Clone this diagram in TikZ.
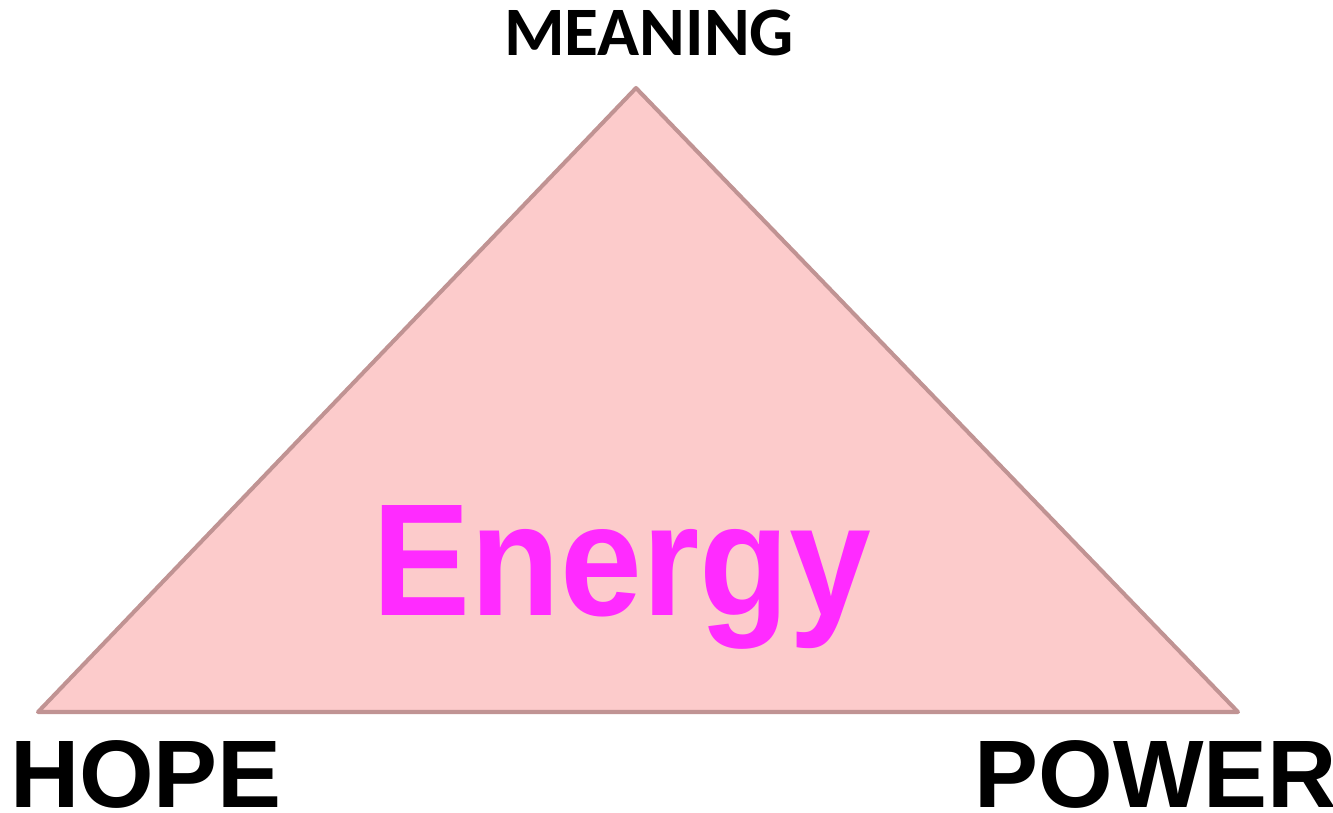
\documentclass[tikz,border=0pt]{standalone}
\usepackage{fontspec}
\setmainfont{Liberation Sans}
\newfontfamily\calibri{Carlito}
\usepackage{tikz}
\usetikzlibrary{positioning}
\definecolor{trifill}{HTML}{FCCBCB}
\definecolor{triedge}{HTML}{C09393}
\definecolor{energypink}{HTML}{FF2BFF}

\begin{document}
\begin{tikzpicture}[x=0.02cm,y=-0.02cm,
  corner/.style={font=\bfseries\fontsize{54.6}{60}\selectfont,inner sep=0pt,anchor=base},
  apex/.style={font=\calibri\bfseries\fontsize{39.5}{44}\selectfont,inner sep=0pt,anchor=base},
  centre/.style={font=\bfseries\fontsize{91}{100}\selectfont,text=energypink,inner sep=0pt,anchor=base,xscale=0.92,transform shape},
  side/.style={draw=triedge,line width=2.3pt,line join=round,fill=trifill}]
  \useasboundingbox (0,0) rectangle (1333,812);
  \coordinate (top) at (636,88);
  \coordinate (left) at (38,712);
  \coordinate (right) at (1238,712);
  \filldraw[side] (top) -- (left) -- (right) -- cycle;
  \node[apex] (meaning) at (649,55) {MEANING};
  \node[corner] (hope) at (146,807) {HOPE};
  \node[corner] (power) at (1156,807) {POWER};
  \node[centre] (energy) at (622,615) {Energy};
\end{tikzpicture}
\end{document}
